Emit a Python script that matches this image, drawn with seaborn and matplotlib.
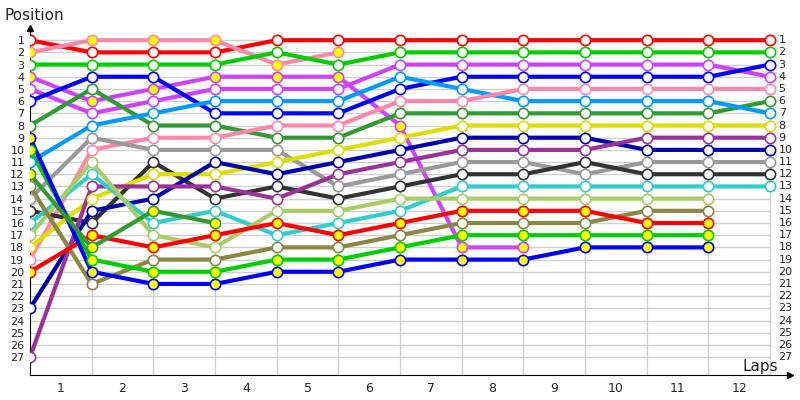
import matplotlib
matplotlib.use("Agg")
import matplotlib.pyplot as plt
import seaborn as sns
import pandas as pd
from matplotlib.transforms import blended_transform_factory

drivers = ["red1","pink1","green1","violet1","violet2","blue1","dkgreen1","ltblue","pink2","gray",
           "black","yellow","navy","dpurple","cyan","ltolive","olive","red2","green2","blue2","dkgreen2"]
colors = ["#ff0000","#ff88aa","#00cc00","#cc44ff","#cc44ff","#0000ff","#339933","#0099ff","#ff88aa","#999999",
          "#333333","#dddd00","#0000aa","#993399","#33cccc","#aacc66","#888844","#ff0000","#00cc00","#0000ff","#339933"]
yellow_fill = ["pink1","violet1","red2","green2","blue2","dkgreen2"]
positions = {
    "red1":    [1,2,2,2,1,1,1,1,1,1,1,1,1],
    "pink1":   [2,1,1,1,3,2],
    "green1":  [3,3,3,3,2,3,2,2,2,2,2,2,2],
    "violet1": [4,6,5,4,4,4,8,18,18],
    "violet2": [5,7,6,5,5,5,3,3,3,3,3,3,4],
    "blue1":   [6,4,4,7,7,7,5,4,4,4,4,4,3],
    "dkgreen1":[8,5,8,8,9,9,7,7,7,7,7,7,6],
    "ltblue":  [11,8,7,6,6,6,4,5,6,6,6,6,7],
    "pink2":   [19,10,9,9,8,8,6,6,5,5,5,5,5],
    "gray":    [14,9,10,10,10,13,12,11,11,12,11,11,11],
    "black":   [15,16,11,14,13,14,13,12,12,11,12,12,12],
    "yellow":  [18,14,12,12,11,10,9,8,8,8,8,8,8],
    "navy":    [23,15,14,11,12,11,10,9,9,9,10,10,10],
    "dpurple": [27,13,13,13,14,12,11,10,10,10,9,9,9],
    "cyan":    [16,12,16,15,17,16,15,13,13,13,13,13,13],
    "ltolive": [17,11,17,18,15,15,14,14,14,14,14,14],
    "olive":   [13,21,19,19,18,18,17,16,16,16,15,15],
    "red2":    [20,17,18,17,16,17,16,15,15,15,16,16],
    "green2":  [10,19,20,20,19,19,18,17,17,17,17,17],
    "blue2":   [9,20,21,21,20,20,19,19,19,18,18,18],
    "dkgreen2":[12,18,15,16],
}
lap_labels = [str(i) for i in range(1, 13)]
pos_labels = list(range(1, 28))

rows = []
for d in drivers:
    for lap, p in enumerate(positions[d]):
        rows.append({"driver": d, "lap": lap, "pos": p})
df = pd.DataFrame(rows)
palette = dict(zip(drivers, colors))

sns.set_style("white")
plt.rcParams['font.family'] = ['DejaVu Sans']
fig = plt.figure(figsize=(8, 4), dpi=100)
ax = fig.add_axes([30/800, 25/400, 760/800, 347/400])
ax.set_xlim(0, 760/61.67)
ax.set_ylim(28.47, 0)

for p in pos_labels:
    ax.plot([0, 12], [p, p], color="#d0d0d0", lw=1, zorder=0)
for k in range(1, 13):
    ax.plot([k, k], [1, 28.47], color="#d0d0d0", lw=1, zorder=0)

sns.lineplot(data=df, x="lap", y="pos", hue="driver", palette=palette, units="driver",
             estimator=None, sort=False, lw=3, legend=False, ax=ax, zorder=2)
for d in drivers:
    sub = df[df.driver == d]
    ax.scatter(sub.lap, sub.pos, s=55, facecolor="#ffff00" if d in yellow_fill else "white",
               edgecolor=palette[d], linewidth=1.2, zorder=3)

for s in ["top", "right"]:
    ax.spines[s].set_visible(False)
ax.spines["left"].set_color("black")
ax.spines["bottom"].set_color("black")
ax.plot(0, 0, marker="^", color="black", ms=5, clip_on=False, transform=ax.transData)
ax.plot(1, 0, marker=">", color="black", ms=5, clip_on=False, transform=ax.transAxes)

ax.set_yticks(pos_labels)
ax.set_yticklabels([str(p) for p in pos_labels], fontsize=8)
ax.tick_params(axis="y", length=0, pad=4)
tr = blended_transform_factory(ax.transAxes, ax.transData)
for p in pos_labels:
    ax.text(760/760 - 0.015, p, str(p), transform=tr, fontsize=8, va="center", ha="left")
ax.set_xticks([k + 0.5 for k in range(12)])
ax.set_xticklabels(lap_labels, fontsize=9)
ax.set_xticks(range(0, 13), minor=True)
ax.tick_params(axis="x", which="major", length=0, pad=5)
ax.tick_params(axis="x", which="minor", length=3, direction="inout")
ax.set_xlabel(""); ax.set_ylabel("")
fig.text(5/800, 1 - 15/400, "Position", fontsize=11, va="center", ha="left")
fig.text(742/800, 1 - 367/400, "Laps", fontsize=11, va="center", ha="left")
fig.savefig("out.png", dpi=100)
